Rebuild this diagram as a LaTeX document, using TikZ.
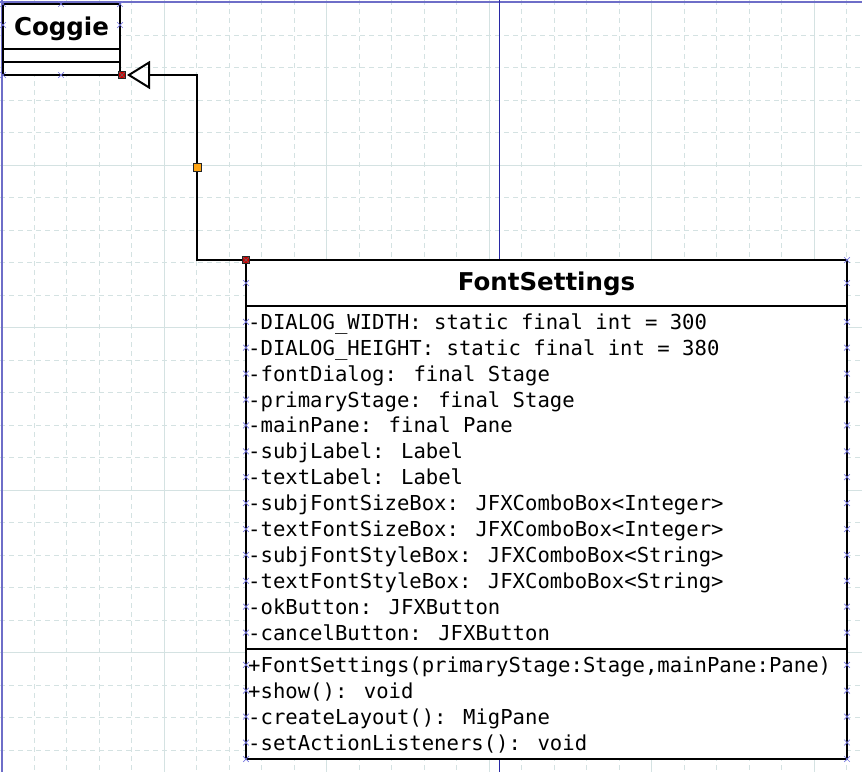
\documentclass[tikz,border=0pt]{standalone}
\usepackage{fontspec}
\setmainfont{DejaVu Sans}
\newfontfamily\umlmono{DejaVu Sans Mono}
\usepackage{tikz}
\usetikzlibrary{arrows.meta,calc,shapes.misc}
\usepackage{xcolor}
\definecolor{umlgrid}{RGB}{212,226,226}
\definecolor{umlaxis}{RGB}{110,110,200}
\definecolor{umlguide}{RGB}{40,40,165}
\definecolor{umlstick}{RGB}{120,120,225}
\definecolor{umlred}{RGB}{205,0,0}
\definecolor{umlorange}{RGB}{255,165,20}

\begin{document}
\begin{tikzpicture}[x=1pt,y=-1pt,
  gridfine/.style={umlgrid,line width=0.8pt,dash pattern=on 5pt off 4pt},
  gridmajor/.style={umlgrid,line width=1pt},
  classbox/.style={draw=black,fill=white,line width=2pt,anchor=north west,inner sep=0pt,outer sep=0pt},
  classname/.style={font=\bfseries\fontsize{24.5}{28}\selectfont,anchor=base,inner sep=0pt},
  member/.style={font=\umlmono\fontsize{20.6}{24}\selectfont,anchor=base west,inner sep=0pt},
  divider/.style={black,line width=2pt},
  stick/.style={cross out,draw=umlstick,line width=0.7pt,minimum size=5pt,inner sep=0pt},
  endmark/.style={rectangle,draw=black!85,fill=umlred,line width=0.8pt,minimum size=7pt,inner sep=0pt,
    path picture={\draw[black!60,line width=0.5pt] (path picture bounding box.north west) -- (path picture bounding box.south east)
      (path picture bounding box.north east) -- (path picture bounding box.south west);}},
  midmark/.style={rectangle,draw=black!85,fill=umlorange,line width=0.8pt,minimum size=8pt,inner sep=0pt},
  generalization/.style={black,line width=2pt,-{Triangle[open,length=23pt,width=28pt]}}]
\useasboundingbox (0,0) rectangle (862,772);
% BACKGROUND: editor grid, every 5th line solid
\foreach \k in {1,...,26} {
  \draw[gridfine] ({1.5+32.5*\k},0) -- ({1.5+32.5*\k},772);
}
\foreach \k in {1,...,23} {
  \draw[gridfine] (0,{2.5+32.5*\k}) -- (862,{2.5+32.5*\k});
}
\foreach \k in {5,10,...,25} {
  \draw[gridmajor] ({1.5+32.5*\k},0) -- ({1.5+32.5*\k},772);
}
\foreach \k in {5,10,15,20} {
  \draw[gridmajor] (0,{2.5+32.5*\k}) -- (862,{2.5+32.5*\k});
}
% Axis and page guide lines
\draw[umlaxis,line width=2pt] (0,1.5) -- (862,1.5);
\draw[umlaxis,line width=2pt] (1.5,0) -- (1.5,772);
\draw[umlguide,line width=1pt] (499,0) -- (499,772);

% TOP LEFT: parent class
\node[classbox,minimum width=117pt,minimum height=71pt] (coggie) at (3,4) {};
\node[classname] (coggie-name) at (61.5,35) {Coggie};
\draw[divider] (3,49) -- (120,49);
\draw[divider] (3,62) -- (120,62);
\foreach \px/\py [count=\n] in {3/4, 61/4, 120/4, 3/25, 120/25, 3/75, 61/75} {
  \node[stick] (cstick-\n) at (\px,\py) {};
}

% RIGHT: FontSettings class
\node[classbox,minimum width=601pt,minimum height=499pt] (fontsettings) at (246,260) {};
\node[classname] (fontsettings-name) at (546.5,290.7) {FontSettings};
\draw[divider] (246,306) -- (847,306);
\draw[divider] (246,648.5) -- (847,648.5);
% Attributes
\foreach \txt [count=\i from 0] in {
  {-DIALOG\_WIDTH: static final int = 300},
  {-DIALOG\_HEIGHT: static final int = 380},
  {-fontDialog: final Stage},
  {-primaryStage: final Stage},
  {-mainPane: final Pane},
  {-subjLabel: Label},
  {-textLabel: Label},
  {-subjFontSizeBox: JFXComboBox<Integer>},
  {-textFontSizeBox: JFXComboBox<Integer>},
  {-subjFontStyleBox: JFXComboBox<String>},
  {-textFontStyleBox: JFXComboBox<String>},
  {-okButton: JFXButton},
  {-cancelButton: JFXButton}} {
  \node[member] (attr-\i) at (248,{329.3+25.9*\i}) {\txt};
  \node[stick] (astick-l-\i) at (246,{321.8+25.9*\i}) {};
  \node[stick] (astick-r-\i) at (847,{321.8+25.9*\i}) {};
}
% Operations
\foreach \txt [count=\i from 0] in {
  {+FontSettings(primaryStage:Stage,mainPane:Pane)},
  {+show(): void},
  {-createLayout(): MigPane},
  {-setActionListeners(): void}} {
  \node[member] (op-\i) at (248,{672.3+25.9*\i}) {\txt};
  \node[stick] (ostick-l-\i) at (246,{664.8+25.9*\i}) {};
  \node[stick] (ostick-r-\i) at (847,{664.8+25.9*\i}) {};
}
\foreach \px/\py [count=\n] in {246/283, 847/283, 847/260, 246/759, 847/759} {
  \node[stick] (fstick-\n) at (\px,\py) {};
}

% Generalization: FontSettings --|> Coggie
\coordinate (gen-down) at (197,260);
\coordinate (gen-up) at (197,75);
\draw[generalization] (fontsettings.north west) -- (gen-down) -- (gen-up) -- ([xshift=7pt]coggie.south east);
\node[midmark] (gen-mid) at ($(gen-up)!0.5!(gen-down)$) {};
\node[endmark] (gen-start) at (fontsettings.north west) {};
\node[endmark] (gen-end) at ([xshift=2pt]coggie.south east) {};
\end{tikzpicture}
\end{document}
